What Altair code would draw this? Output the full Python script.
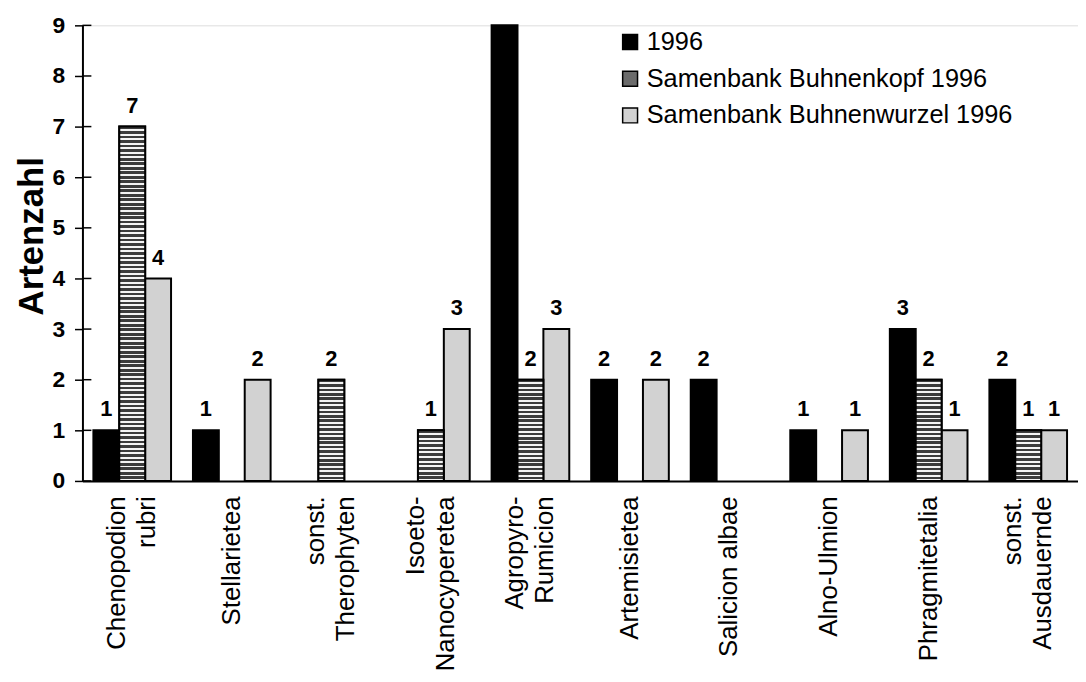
import altair as alt
import pandas as pd

FONT = "Liberation Sans"

categories = [
    "Chenopodion\nrubri",
    "Stellarietea",
    "sonst.\nTherophyten",
    "Isoeto-\nNanocyperetea",
    "Agropyro-\nRumicion",
    "Artemisietea",
    "Salicion albae",
    "Alno-Ulmion",
    "Phragmitetalia",
    "sonst.\nAusdauernde",
]
series = ["1996", "Samenbank Buhnenkopf 1996", "Samenbank Buhnenwurzel 1996"]

values_1996 = [1, 1, 0, 0, 9, 2, 2, 1, 3, 2]
values_kopf = [7, 0, 2, 1, 2, 0, 0, 0, 2, 1]
values_wurzel = [4, 2, 0, 3, 3, 2, 0, 1, 1, 1]

labels_1996 = ["1", "1", "", "", "", "2", "2", "1", "3", "2"]
labels_kopf = ["7", "", "2", "1", "2", "", "", "", "2", "1"]
labels_wurzel = ["4", "2", "", "3", "3", "2", "", "1", "1", "1"]

y_ticks = [0, 1, 2, 3, 4, 5, 6, 7, 8, 9]

rows = []
for s, vals, labs in [
    (series[0], values_1996, labels_1996),
    (series[1], values_kopf, labels_kopf),
    (series[2], values_wurzel, labels_wurzel),
]:
    for c, v, l in zip(categories, vals, labs):
        rows.append({"category": c, "series": s, "value": v, "label": l})
df = pd.DataFrame(rows)

x_enc = alt.X(
    "category:N",
    sort=categories,
    scale=alt.Scale(paddingInner=0.22, paddingOuter=0.11),
    axis=alt.Axis(
        title=None,
        labelAngle=-90,
        labelAlign="right",
        labelBaseline="middle",
        labelFontSize=26,
        labelLineHeight=30,
        labelExpr="split(datum.label, '\\n')",
        labelOffset={"condition": {"test": "indexof(datum.label, '\\n') >= 0", "value": -15}, "value": 0},
        labelPadding=15,
        labelLimit=500,
        labelOverlap=False,
        ticks=False,
        tickSize=0,
        domainColor="black",
        domainWidth=2,
        labelColor="black",
    ),
)
xoff_enc = alt.XOffset("series:N", sort=series, scale=alt.Scale(paddingInner=0, paddingOuter=0))
y_enc = alt.Y(
    "value:Q",
    scale=alt.Scale(domain=[0, 9], nice=False),
    axis=alt.Axis(
        title="Artenzahl",
        values=y_ticks,
        grid=False,
        tickSize=8,
        tickColor="black",
        tickWidth=1.5,
        domainColor="black",
        domainWidth=2,
        labelFontSize=23,
        labelFontWeight="bold",
        labelColor="black",
        labelPadding=10,
        titleFontSize=35,
        titleFontWeight="bold",
        titleColor="black",
        titleAngle=-90,
        titleAlign="center",
        titleBaseline="middle",
        titleX=-51,
        titleY=212,
    ),
)

base = alt.Chart(df).encode(x=x_enc, xOffset=xoff_enc, y=y_enc)

bars = base.transform_filter("datum.value > 0").mark_bar(
    stroke="black", strokeWidth=2
).encode(
    color=alt.Color(
        "series:N",
        sort=series,
        scale=alt.Scale(domain=series, range=["#000000", "#6b6b6b", "#d2d2d2"]),
        legend=alt.Legend(
            title=None,
            orient="none",
            legendX=539,
            legendY=4,
            symbolType="square",
            symbolSize=225,
            symbolStrokeColor="black",
            symbolStrokeWidth=1.5,
            symbolOpacity=1,
            labelFontSize=25.5,
            labelFont=FONT,
            labelColor="black",
            labelOffset=4,
            rowPadding=10,
            padding=0,
            labelLimit=600,
        ),
    )
)


def stripes(n, dark="#3c3c3c", light="#f4f4f4", frac=0.6):
    stops = []
    for k in range(n):
        a = k / n
        b = (k + frac) / n
        c = (k + 1) / n
        stops += [
            alt.GradientStop(offset=a, color=dark),
            alt.GradientStop(offset=b, color=dark),
            alt.GradientStop(offset=b, color=light),
            alt.GradientStop(offset=c, color=light),
        ]
    return alt.LinearGradient(gradient="linear", stops=stops, x1=0, x2=0, y1=0, y2=1)


stripe_layers = []
for v in sorted(set(values_kopf)):
    if v <= 0:
        continue
    stripe_layers.append(
        base.transform_filter(
            f"datum.series == '{series[1]}' && datum.value == {v}"
        ).mark_bar(fill=stripes(int(round(v * 11.3))), stroke="black", strokeWidth=2)
    )

texts = base.transform_filter("datum.label != ''").mark_text(
    baseline="alphabetic", dy=-14, fontSize=22, fontWeight="bold", font=FONT, color="black"
).encode(text="label:N")

ticks = alt.Chart(pd.DataFrame({"value": y_ticks})).mark_rule(
    color="black", strokeWidth=1.5
).encode(y=alt.Y("value:Q"), x=alt.value(0), x2=alt.value(9))

chart = (
    alt.layer(bars, *stripe_layers, texts, ticks)
    .properties(
        width=1003,
        height=459,
        autosize=alt.AutoSizeParams(type="none"),
        padding={"left": 75, "top": 15, "right": 0, "bottom": 190},
    )
    .configure_view(stroke=None)
    .configure(font=FONT)
    .configure_axis(labelFont=FONT, titleFont=FONT)
)

chart.save("out.html", embed_options={"renderer": "svg", "actions": False})
